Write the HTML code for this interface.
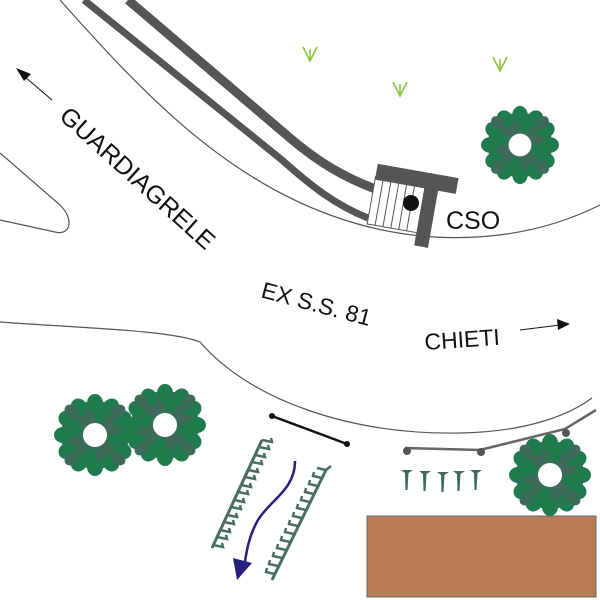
<!DOCTYPE html>
<html><head><meta charset="utf-8"><style>
html,body{margin:0;padding:0;background:#fff;width:600px;height:600px;overflow:hidden}
svg{display:block}
text{font-family:"Liberation Sans",Arial,sans-serif;fill:#111}
</style></head><body>
<svg width="600" height="600" viewBox="0 0 600 600" xmlns="http://www.w3.org/2000/svg">
<defs>
<g id="tree">
 <circle r="23" fill="none" stroke="#3e6a5a" stroke-width="22"/>
 <g fill="#1f7a4d">
  <ellipse cx="0" cy="-32" rx="8" ry="9"/>
  <ellipse cx="0" cy="-32" rx="8" ry="9" transform="rotate(30)"/>
  <ellipse cx="0" cy="-32" rx="8" ry="9" transform="rotate(60)"/>
  <ellipse cx="0" cy="-32" rx="8" ry="9" transform="rotate(90)"/>
  <ellipse cx="0" cy="-32" rx="8" ry="9" transform="rotate(120)"/>
  <ellipse cx="0" cy="-32" rx="8" ry="9" transform="rotate(150)"/>
  <ellipse cx="0" cy="-32" rx="8" ry="9" transform="rotate(180)"/>
  <ellipse cx="0" cy="-32" rx="8" ry="9" transform="rotate(210)"/>
  <ellipse cx="0" cy="-32" rx="8" ry="9" transform="rotate(240)"/>
  <ellipse cx="0" cy="-32" rx="8" ry="9" transform="rotate(270)"/>
  <ellipse cx="0" cy="-32" rx="8" ry="9" transform="rotate(300)"/>
  <ellipse cx="0" cy="-32" rx="8" ry="9" transform="rotate(330)"/>
  <ellipse cx="0" cy="-20" rx="6" ry="7" transform="rotate(15)"/>
  <ellipse cx="0" cy="-20" rx="6" ry="7" transform="rotate(105)"/>
  <ellipse cx="0" cy="-20" rx="6" ry="7" transform="rotate(195)"/>
  <ellipse cx="0" cy="-20" rx="6" ry="7" transform="rotate(285)"/>
 </g>
 <g fill="#3e6a5a">
  <ellipse cx="0" cy="-33" rx="6" ry="8" transform="rotate(45)"/>
  <ellipse cx="0" cy="-33" rx="6" ry="8" transform="rotate(135)"/>
  <ellipse cx="0" cy="-33" rx="6" ry="8" transform="rotate(225)"/>
  <ellipse cx="0" cy="-33" rx="6" ry="8" transform="rotate(315)"/>
 </g>
</g>
<g id="v"><path d="M-7,-8 L0,6 L7,-8 M0,6 L0,-6" fill="none" stroke="#8cc63f" stroke-width="1.6"/></g>
<g id="tee"><path d="M-6,0 L6,0 L1.5,3 L0.5,20 L-1.5,20 L-2,3 Z" fill="#3e6a5a"/></g>
<g id="toothL"><path d="M0,0 l11,2 l0,-4" fill="none" stroke="#4a6e62" stroke-width="2.5"/></g>
</defs>

<path d="M60,0 C140,90 220,175 330,215 C420,248 520,245 600,205" fill="none" stroke="#555" stroke-width="1.2"/>
<path d="M0,153 L60,205 C75,220 70,236 55,232 L0,220" fill="none" stroke="#555" stroke-width="1.2"/>
<path d="M0,322 C80,328 170,330 200,342 C250,400 350,435 460,433 C520,432 565,418 592,398" fill="none" stroke="#555" stroke-width="1.2"/>

<path d="M84,0 L282,160 C310,185 335,205 368,218" fill="none" stroke="#555" stroke-width="7"/>
<path d="M128,0 L290,138 C318,162 345,178 378,190" fill="none" stroke="#555" stroke-width="9"/>

<g transform="rotate(10 410 200)">
 <rect x="372" y="183" width="52" height="48" fill="#fff" stroke="#555" stroke-width="1"/>
 <g stroke="#555" stroke-width="1">
  <line x1="380" y1="184" x2="380" y2="231"/><line x1="388" y1="184" x2="388" y2="231"/>
  <line x1="396" y1="184" x2="396" y2="231"/><line x1="404" y1="184" x2="404" y2="231"/>
  <line x1="412" y1="184" x2="412" y2="231"/>
 </g>
 <rect x="372" y="170" width="82" height="16" fill="#555"/>
 <rect x="422" y="184" width="14" height="60" fill="#555"/>
</g>
<circle cx="411" cy="203" r="8" fill="#111"/>

<use href="#tree" transform="translate(520,145) scale(0.95)"/>
<use href="#tree" transform="translate(95,435)"/>
<use href="#tree" transform="translate(165,425)"/>
<use href="#tree" transform="translate(550,475)"/>

<use href="#v" transform="translate(310,55)"/>
<use href="#v" transform="translate(400,90)"/>
<use href="#v" transform="translate(500,65)"/>

<line x1="52" y1="100" x2="25" y2="77" stroke="#111" stroke-width="1"/>
<polygon points="16,68 31,74 24,81" fill="#111"/>
<line x1="520" y1="330" x2="560" y2="325" stroke="#111" stroke-width="1"/>
<polygon points="570,324 557,319 558,330" fill="#111"/>

<text x="0" y="0" font-size="25" transform="translate(58,118) rotate(42)">GUARDIAGRELE</text>
<text x="0" y="0" font-size="23" transform="translate(260,297) rotate(15)">EX S.S. 81</text>
<text x="0" y="0" font-size="23" transform="translate(425,350) rotate(-4)">CHIETI</text>
<text x="446" y="229" font-size="25">CSO</text>

<line x1="272" y1="416" x2="347" y2="444" stroke="#111" stroke-width="2.5"/>
<circle cx="272" cy="416" r="3" fill="#111"/><circle cx="347" cy="444" r="3" fill="#111"/>
<polyline points="405,448 480,450 565,429 596,410" fill="none" stroke="#666" stroke-width="2.5"/>
<circle cx="407" cy="451" r="4" fill="#555"/><circle cx="481" cy="452" r="4" fill="#555"/><circle cx="566" cy="433" r="4" fill="#555"/>

<use href="#tee" transform="translate(407,470)"/>
<use href="#tee" transform="translate(425,471)"/>
<use href="#tee" transform="translate(443,472)"/>
<use href="#tee" transform="translate(459,471)"/>
<use href="#tee" transform="translate(476,470)"/>

<g stroke="#4a6e62" stroke-width="3" fill="none">
 <line x1="212" y1="548" x2="262" y2="440"/>
 <path d="M262,440 l10,2 l-1,-4 M259,447 l10,2 l-1,-4 M255,455 l10,2 l-1,-4 M252,462 l10,2 l-1,-4 M248,470 l10,2 l-1,-4 M245,477 l10,2 l-1,-4 M241,485 l10,2 l-1,-4 M238,492 l10,2 l-1,-4 M234,500 l10,2 l-1,-4 M231,507 l10,2 l-1,-4 M227,515 l10,2 l-1,-4 M224,522 l10,2 l-1,-4 M220,530 l10,2 l-1,-4 M217,537 l10,2 l-1,-4 M213,545 l10,2 l-1,-4" stroke-width="2.5"/>
 <line x1="272" y1="580" x2="326" y2="470"/>
 <path d="M326,470 l5,-4 M326,470 l-9,-2 M322,478 l-9,-2 l1,-4 M318,486 l-9,-2 l1,-4 M314,494 l-9,-2 l1,-4 M310,502 l-9,-2 l1,-4 M306,510 l-9,-2 l1,-4 M302,518 l-9,-2 l1,-4 M298,526 l-9,-2 l1,-4 M294,534 l-9,-2 l1,-4 M290,542 l-9,-2 l1,-4 M286,550 l-9,-2 l1,-4 M282,558 l-9,-2 l1,-4 M278,566 l-9,-2 l1,-4 M275,574 l-9,-2 l1,-4" stroke-width="2.5"/>
</g>

<path d="M295,461 C295,490 270,500 258,520 C248,537 246,555 244,568" fill="none" stroke="#2a1f7a" stroke-width="2.5"/>
<polygon points="237,580 233,558 252,563" fill="#2a1f7a"/>

<rect x="367" y="516" width="229" height="81" fill="#b87c55" stroke="#666" stroke-width="1"/>
</svg>
</body></html>
